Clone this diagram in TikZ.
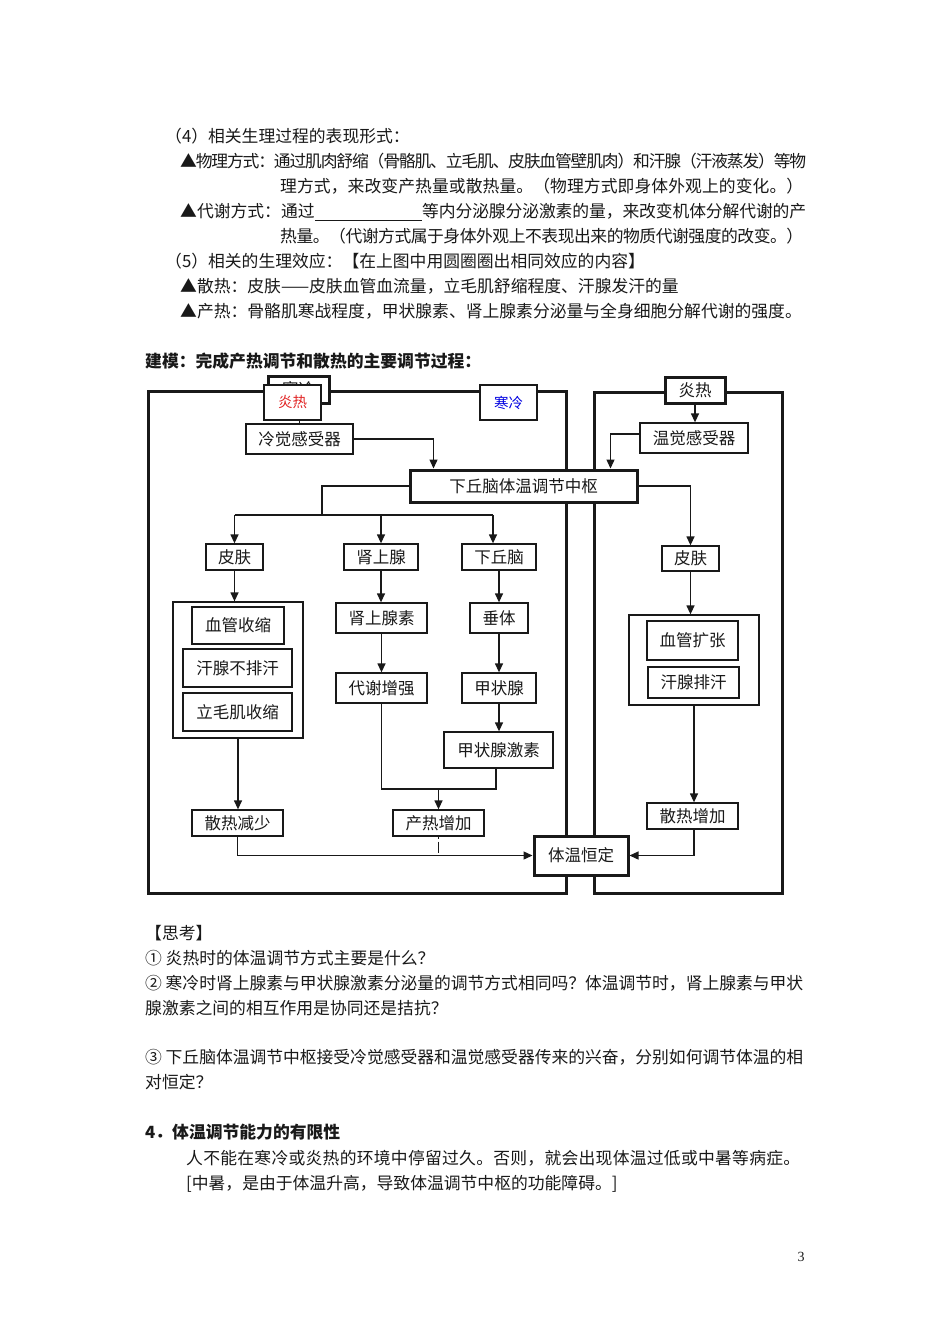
\documentclass[tikz,border=0pt]{standalone}
\usepackage{fontspec}
\setmainfont{Noto Sans CJK SC}
\newfontfamily\serifnum{Liberation Serif}
\usetikzlibrary{arrows.meta,calc}
\definecolor{redt}{RGB}{225,35,35}
\definecolor{bluet}{RGB}{0,0,225}
\definecolor{ink}{RGB}{25,25,25}
\newcommand\bodyfs{\fontsize{16.8}{20}\selectfont}
\newcommand\diafs{\fontsize{16.5}{20}\selectfont}
\newcommand\spreadline[2]{\makebox[#1][s]{\sprfirst#2\relax}}
\def\sprfirst#1{#1\sprloop}
\def\sprloop#1{\ifx\relax#1\else\hskip 0pt plus 1fil minus 1fil\relax #1\expandafter\sprloop\fi}
\begin{document}
\begin{tikzpicture}[x=1pt,y=-1pt,
  txt/.style={anchor=west,inner sep=0pt,font=\bodyfs,text=ink,text height=14.8pt,text depth=2pt},
  box/.style={draw=ink,line width=1.3pt,fill=white,inner sep=0pt,font=\diafs,text=ink},
  tbox/.style={box,line width=3pt},
  frame/.style={draw=ink,line width=3pt},
  arr/.style={draw=ink,line width=1.3pt,-{Triangle[width=8pt,length=9pt]}},
  ln/.style={draw=ink,line width=1.3pt}]
\useasboundingbox[fill=white] (0,0) rectangle (950,1344);

% ---------- upper text ----------
\node[txt] (t1) at (165,136) {（4）相关生理过程的表现形式：};
\node[txt] (t2) at (180,161) {\spreadline{626pt}{▲物理方式：通过肌肉舒缩（骨骼肌、立毛肌、皮肤血管壁肌肉）和汗腺（汗液蒸发）等物}};
\node[txt] (t3) at (280,186) {\spreadline{523pt}{理方式，来改变产热量或散热量。（物理方式即身体外观上的变化。）}};
\node[txt] (t4a) at (180,211) {▲代谢方式：通过};
\node[txt] (t4b) at (422,211) {\spreadline{384pt}{等内分泌腺分泌激素的量，来改变机体分解代谢的产}};
\draw[ink,line width=0.8pt] ([yshift=-2.5pt]t4a.base east) -- ([yshift=-2.5pt]t4b.base west);
\node[txt] (t5) at (280,236) {\spreadline{523pt}{热量。（代谢方式属于身体外观上不表现出来的物质代谢强度的改变。）}};
\node[txt] (t6) at (165,261) {（5）相关的生理效应：【在上图中用圆圈圈出相同效应的内容】};
\node[txt] (t7) at (180,286) {▲散热：皮肤——皮肤血管血流量，立毛肌舒缩程度、汗腺发汗的量};
\node[txt] (t8) at (180,311) {▲产热：骨骼肌寒战程度，甲状腺素、肾上腺素分泌量与全身细胞分解代谢的强度。};
\node[txt,font=\bodyfs\bfseries] (head) at (145,361) {建模：完成产热调节和散热的主要调节过程：};

% ---------- frames ----------
\draw[frame] (148,391) rectangle (566,893);
\draw[frame] (594,392) rectangle (782,893);

% ---------- boxes ----------
\node[tbox,minimum width=61pt,minimum height=27pt] (hanback) at (298.5,389.5) {寒冷};
\node[box,minimum width=57pt,minimum height=35pt,text=redt,font=\fontsize{14.5}{16}\selectfont] (yanred) at (292.5,402.5) {炎热};
\node[box,minimum width=57pt,minimum height=35pt,text=bluet,font=\fontsize{14.5}{16}\selectfont] (hanblue) at (508.5,402.5) {寒冷};
\node[box,minimum width=107pt,minimum height=30pt] (lengjue) at (299.5,439) {冷觉感受器};
\node[tbox,minimum width=227pt,minimum height=32pt] (center) at (523.5,486) {下丘脑体温调节中枢};
\node[box,minimum width=57pt,minimum height=26pt] (pifuL) at (234.5,557) {皮肤};
\node[box,minimum width=74pt,minimum height=26pt] (shenshang) at (381,557) {肾上腺};
\node[box,minimum width=74pt,minimum height=26pt] (xiaqiu) at (499,557) {下丘脑};
\node[box,minimum width=130pt,minimum height=136pt] (contL) at (238,670) {};
\node[box,minimum width=92pt,minimum height=37pt] (xueguanL) at (238,625.5) {血管收缩};
\node[box,minimum width=109pt,minimum height=38pt] (hanxianL) at (237.5,668) {汗腺不排汗};
\node[box,minimum width=109pt,minimum height=38pt] (limao) at (237.5,712) {立毛肌收缩};
\node[box,minimum width=91pt,minimum height=30pt] (shenshangsu) at (381.5,618) {肾上腺素};
\node[box,minimum width=58pt,minimum height=30pt] (chuiti) at (499,618) {垂体};
\node[box,minimum width=91pt,minimum height=30pt] (daixie) at (381.5,688) {代谢增强};
\node[box,minimum width=74pt,minimum height=30pt] (jiazhuang) at (499,688) {甲状腺};
\node[box,minimum width=109pt,minimum height=36pt] (jiasu) at (498.5,750) {甲状腺激素};
\node[box,minimum width=91pt,minimum height=26pt] (sanjian) at (237.5,823) {散热减少};
\node[box,minimum width=91pt,minimum height=26pt] (chanre) at (438.5,823) {产热增加};
\node[tbox,minimum width=94pt,minimum height=39pt] (hengding) at (581,855.5) {体温恒定};
\node[tbox,minimum width=60pt,minimum height=26pt] (yanR) at (695,390) {炎热};
\node[box,minimum width=108pt,minimum height=30pt] (wenjue) at (694,438) {温觉感受器};
\node[box,minimum width=57pt,minimum height=25pt] (pifuR) at (690.5,558.5) {皮肤};
\node[box,minimum width=130pt,minimum height=90pt] (contR) at (694,660) {};
\node[box,minimum width=91pt,minimum height=39pt] (kuozhang) at (692.5,640.5) {血管扩张};
\node[box,minimum width=91pt,minimum height=31pt] (hanxianR) at (693.5,682.5) {汗腺排汗};
\node[box,minimum width=91pt,minimum height=26pt] (sanzeng) at (692.5,816) {散热增加};

% ---------- connectors ----------
\draw[ln,line width=1pt] (yanred.south -| lengjue.north) -- (lengjue.north);
\draw[arr] (lengjue.east) -| ([xshift=25pt]center.north west);
\coordinate (busM) at (322,515);
\coordinate (busL) at (234.5,515);
\coordinate (busC) at (381,515);
\coordinate (busR) at (493,515);
\draw[ln] (center.west) -| (busM);
\draw[ln] (busL) -- (busR);
\draw[arr] (busL) -- (pifuL.north);
\draw[arr] (busC) -- (shenshang.north);
\draw[arr] (busR) -- (busR |- xiaqiu.north);
\draw[arr] (pifuL.south) -- (pifuL.south |- contL.north);
\draw[arr] (contL.south) -- (contL.south |- sanjian.north);
\draw[arr] (shenshang.south) -- (shenshang.south |- shenshangsu.north);
\draw[arr] (shenshangsu.south) -- (shenshangsu.south |- daixie.north);
\coordinate (mergeL) at (381.5,789);
\coordinate (mergeC) at (438.5,789);
\coordinate (mergeR) at (496,789);
\draw[ln] (daixie.south) -- (mergeL) -- (mergeR) -- (mergeR |- jiasu.south);
\draw[arr] (mergeC) -- (chanre.north);
\draw[arr] (xiaqiu.south) -- (chuiti.north);
\draw[arr] (chuiti.south) -- (jiazhuang.north);
\draw[arr] (jiazhuang.south) -- (jiazhuang.south |- jiasu.north);
\draw[ln,line width=1pt,dash pattern=on 2pt off 3pt on 11pt off 20pt] (chanre.south) -- ([yshift=2pt]chanre.south |- hengding.west);
\draw[arr] (sanjian.south) |- (hengding.west);
\draw[arr] (yanR.south) -- (yanR.south |- wenjue.north);
\draw[arr] ([yshift=4pt]wenjue.west) -| ([xshift=-28pt]center.north east);
\draw[arr] (center.east) -| (pifuR.north);
\draw[arr] (pifuR.south) -- (pifuR.south |- contR.north);
\draw[arr] (contR.south) -- (contR.south |- sanzeng.north);
\draw[arr] ([xshift=1.5pt]sanzeng.south) |- (hengding.east);

% ---------- lower text ----------
\node[txt] (b1) at (145,933) {【思考】};
\node[txt] (b2) at (145,958) {①~炎热时的体温调节方式主要是什么？};
\node[txt] (b3) at (145,983) {\spreadline{658pt}{②~寒冷时肾上腺素与甲状腺激素分泌量的调节方式相同吗？体温调节时，肾上腺素与甲状}};
\node[txt] (b4) at (145,1008) {腺激素之间的相互作用是协同还是拮抗？};
\node[txt] (b5) at (145,1057) {\spreadline{658pt}{③~下丘脑体温调节中枢接受冷觉感受器和温觉感受器传来的兴奋，分别如何调节体温的相}};
\node[txt] (b6) at (145,1082) {对恒定？};
\node[txt,font=\bodyfs\bfseries] (b7) at (145,1132) {4．体温调节能力的有限性};
\node[txt] (b8) at (186,1158) {\spreadline{614pt}{人不能在寒冷或炎热的环境中停留过久。否则，就会出现体温过低或中暑等病症。}};
\node[txt] (b9) at (186,1183) {[中暑，是由于体温升高，导致体温调节中枢的功能障碍。]};
\node[inner sep=0pt,font=\serifnum\fontsize{14}{16}\selectfont,text=ink] (pg) at (801,1257) {3};
\end{tikzpicture}
\end{document}
